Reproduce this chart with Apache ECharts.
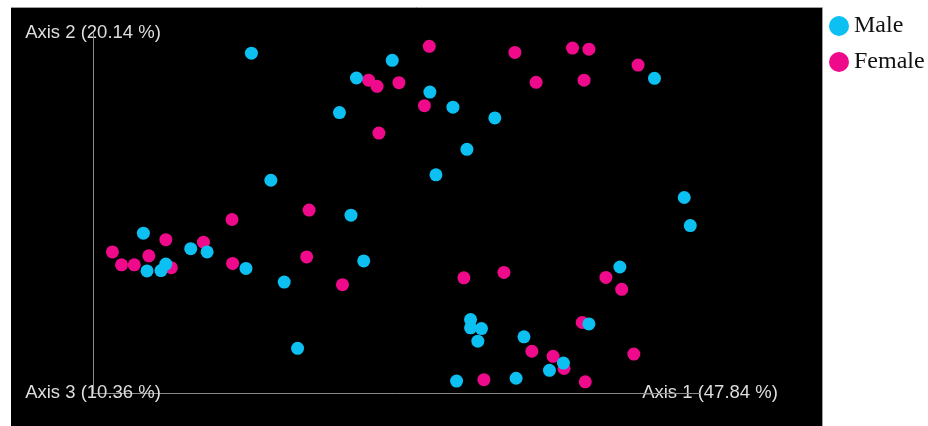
<!DOCTYPE html>
<html>
<head>
<meta charset="utf-8">
<title>PCoA – Male vs Female</title>
<script src="https://cdn.jsdelivr.net/npm/echarts@6/dist/echarts.min.js"></script>
<style>
  html, body { margin: 0; padding: 0; background: #ffffff; }
  #chart { width: 928px; height: 426px; }
</style>
</head>
<body>
<div id="chart"></div>
<script>
// Axis titles (variance explained by each principal coordinate)
const axis1Label = 'Axis 1 (47.84 %)';
const axis2Label = 'Axis 2 (20.14 %)';
const axis3Label = 'Axis 3 (10.36 %)';

// Group names, in legend order
const groups = ['Male', 'Female'];

// Sample coordinates projected onto the Axis 1 / Axis 2 plane, [x, y]
const maleCoords = [
  [26.1, 94.4], [29.3, 59.1], [8.3, 44.4], [16.1, 40.1], [18.8, 39.2],
  [12.0, 35.8], [8.9, 33.9], [11.2, 34.0], [25.2, 34.6], [31.5, 30.8],
  [33.7, 12.4], [49.3, 92.4], [43.4, 87.5], [55.5, 83.6], [59.3, 79.4],
  [40.6, 77.9], [66.2, 76.4], [61.6, 67.7], [56.5, 60.6], [42.5, 49.4],
  [44.6, 36.7], [92.5, 87.4], [97.4, 54.3], [98.4, 46.5], [86.8, 35.0],
  [62.2, 20.4], [62.2, 18.1], [64.0, 17.9], [63.4, 14.4], [71.0, 15.6],
  [77.5, 8.3], [75.2, 6.3], [81.7, 19.2], [59.9, 3.3], [69.7, 4.1]
];

const femaleCoords = [
  [3.2, 39.2], [4.7, 35.6], [6.8, 35.6], [9.2, 38.1], [12.0, 42.6],
  [12.9, 34.8], [18.2, 41.9], [22.9, 48.2], [23.0, 36.0], [35.6, 50.8],
  [35.2, 37.8], [41.1, 30.1], [55.4, 96.3], [69.5, 94.6], [79.0, 95.8],
  [81.7, 95.5], [45.4, 86.9], [46.8, 85.2], [50.4, 86.2], [73.0, 86.3],
  [80.9, 86.9], [54.6, 79.8], [47.1, 72.2], [89.8, 91.1], [84.5, 32.1],
  [87.1, 28.8], [89.1, 10.8], [61.1, 32.0], [67.7, 33.5], [72.3, 11.6],
  [75.8, 10.2], [77.6, 6.8], [80.6, 19.6], [81.1, 3.1], [64.4, 3.7]
];

const maleColor = '#0cc0f2';
const femaleColor = '#ef0a8c';
const axisColor = '#8a8a8a';
const axisTextColor = '#dedede';

const chart = echarts.init(document.getElementById('chart'), null, { renderer: 'canvas' });

const axisNameStyle = {
  color: axisTextColor,
  fontFamily: 'Liberation Sans, Arial, sans-serif',
  fontSize: 18.5,
  align: 'center',
  verticalAlign: 'middle'
};

chart.setOption({
  animation: false,
  backgroundColor: '#ffffff',
  graphic: [
    {
      type: 'rect',
      z: -10,
      shape: { x: 11, y: 7, width: 811, height: 419 },
      style: { fill: '#000000' },
      silent: true
    },
    {
      type: 'polyline',
      z: -9,
      shape: { points: [[11, 7.5], [822.5, 7.5], [822.5, 426]] },
      style: { stroke: '#a0a0a0', lineWidth: 1, fill: null },
      silent: true
    }
  ],
  legend: {
    data: groups,
    orient: 'vertical',
    left: 824,
    top: 9,
    icon: 'circle',
    itemWidth: 20,
    itemHeight: 20,
    itemGap: 12,
    textStyle: {
      color: '#111111',
      fontFamily: 'Liberation Serif, Times New Roman, serif',
      fontSize: 24
    }
  },
  grid: { left: 93, right: 228, top: 33, bottom: 33, containLabel: false },
  xAxis: [
    {
      type: 'value',
      min: 0,
      max: 100,
      name: axis1Label,
      nameLocation: 'end',
      nameGap: 10,
      nameTextStyle: axisNameStyle,
      axisLine: { show: true, lineStyle: { color: axisColor, width: 1 } },
      axisTick: { show: false },
      axisLabel: { show: false },
      splitLine: { show: false }
    },
    {
      type: 'value',
      min: 0,
      max: 100,
      position: 'bottom',
      name: axis3Label,
      nameLocation: 'start',
      nameGap: 0,
      nameTextStyle: axisNameStyle,
      axisLine: { show: false },
      axisTick: { show: false },
      axisLabel: { show: false },
      splitLine: { show: false }
    }
  ],
  yAxis: {
    type: 'value',
    min: 0,
    max: 100,
    name: axis2Label,
    nameLocation: 'end',
    nameGap: 0,
    nameTextStyle: axisNameStyle,
    axisLine: { show: true, lineStyle: { color: axisColor, width: 1 } },
    axisTick: { show: false },
    axisLabel: { show: false },
    splitLine: { show: false }
  },
  series: [
    {
      name: 'Female',
      type: 'scatter',
      xAxisIndex: 0,
      data: femaleCoords,
      symbol: 'circle',
      symbolSize: 13,
      itemStyle: { color: femaleColor, opacity: 1 },
      emphasis: { disabled: true }
    },
    {
      name: 'Male',
      type: 'scatter',
      xAxisIndex: 0,
      data: maleCoords,
      symbol: 'circle',
      symbolSize: 13,
      itemStyle: { color: maleColor, opacity: 1 },
      emphasis: { disabled: true }
    }
  ]
});
</script>
</body>
</html>
